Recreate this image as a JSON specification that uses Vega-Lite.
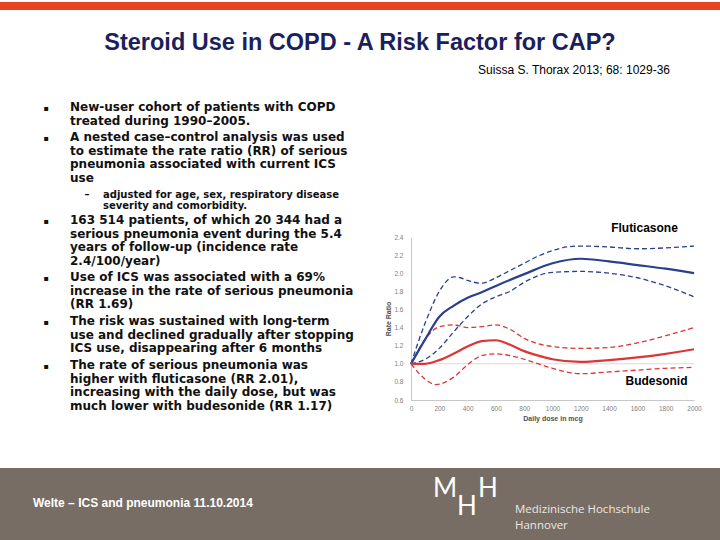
{
  "$schema": "https://vega.github.io/schema/vega-lite/v6.json",
  "padding": 0,
  "background": "white",
  "spacing": 0,
  "bounds": "full",
  "align": "each",
  "config": {
    "view": {"stroke": null},
    "concat": {"spacing": 0},
    "axis": {"labelOverlap": false, "labelBound": false, "labelFlush": false, "grid": false, "ticks": false, "domainColor": "#c8c8c8", "labelFont": "Liberation Sans", "labelFontSize": 6.5, "labelColor": "#808080", "titleFont": "Liberation Sans", "titleFontSize": 7, "titleFontWeight": "bold", "titleColor": "#505050"}
  },
  "datasets": {
    "curves": [
      {"drug":"Fluticasone","band":"estimate","dose":0,"rr":1.0},
      {"drug":"Fluticasone","band":"estimate","dose":100,"rr":1.27},
      {"drug":"Fluticasone","band":"estimate","dose":200,"rr":1.52},
      {"drug":"Fluticasone","band":"estimate","dose":300,"rr":1.64},
      {"drug":"Fluticasone","band":"estimate","dose":400,"rr":1.73},
      {"drug":"Fluticasone","band":"estimate","dose":500,"rr":1.79},
      {"drug":"Fluticasone","band":"estimate","dose":600,"rr":1.86},
      {"drug":"Fluticasone","band":"estimate","dose":800,"rr":1.99},
      {"drug":"Fluticasone","band":"estimate","dose":1000,"rr":2.11},
      {"drug":"Fluticasone","band":"estimate","dose":1200,"rr":2.16},
      {"drug":"Fluticasone","band":"estimate","dose":1400,"rr":2.13},
      {"drug":"Fluticasone","band":"estimate","dose":1600,"rr":2.09},
      {"drug":"Fluticasone","band":"estimate","dose":1800,"rr":2.05},
      {"drug":"Fluticasone","band":"estimate","dose":2000,"rr":2.0},
      {"drug":"Fluticasone","band":"upper","dose":0,"rr":1.0},
      {"drug":"Fluticasone","band":"upper","dose":100,"rr":1.45},
      {"drug":"Fluticasone","band":"upper","dose":200,"rr":1.8},
      {"drug":"Fluticasone","band":"upper","dose":250,"rr":1.91},
      {"drug":"Fluticasone","band":"upper","dose":300,"rr":1.96},
      {"drug":"Fluticasone","band":"upper","dose":350,"rr":1.95},
      {"drug":"Fluticasone","band":"upper","dose":400,"rr":1.92},
      {"drug":"Fluticasone","band":"upper","dose":500,"rr":1.89},
      {"drug":"Fluticasone","band":"upper","dose":600,"rr":1.95},
      {"drug":"Fluticasone","band":"upper","dose":700,"rr":2.03},
      {"drug":"Fluticasone","band":"upper","dose":800,"rr":2.11},
      {"drug":"Fluticasone","band":"upper","dose":900,"rr":2.19},
      {"drug":"Fluticasone","band":"upper","dose":1000,"rr":2.25},
      {"drug":"Fluticasone","band":"upper","dose":1100,"rr":2.29},
      {"drug":"Fluticasone","band":"upper","dose":1200,"rr":2.3},
      {"drug":"Fluticasone","band":"upper","dose":1400,"rr":2.29},
      {"drug":"Fluticasone","band":"upper","dose":1600,"rr":2.27},
      {"drug":"Fluticasone","band":"upper","dose":1800,"rr":2.28},
      {"drug":"Fluticasone","band":"upper","dose":2000,"rr":2.3},
      {"drug":"Fluticasone","band":"lower","dose":0,"rr":1.0},
      {"drug":"Fluticasone","band":"lower","dose":100,"rr":1.05},
      {"drug":"Fluticasone","band":"lower","dose":200,"rr":1.17},
      {"drug":"Fluticasone","band":"lower","dose":300,"rr":1.35},
      {"drug":"Fluticasone","band":"lower","dose":400,"rr":1.52},
      {"drug":"Fluticasone","band":"lower","dose":500,"rr":1.66},
      {"drug":"Fluticasone","band":"lower","dose":600,"rr":1.74},
      {"drug":"Fluticasone","band":"lower","dose":700,"rr":1.8},
      {"drug":"Fluticasone","band":"lower","dose":800,"rr":1.9},
      {"drug":"Fluticasone","band":"lower","dose":1000,"rr":2.01},
      {"drug":"Fluticasone","band":"lower","dose":1200,"rr":2.02},
      {"drug":"Fluticasone","band":"lower","dose":1400,"rr":2.0},
      {"drug":"Fluticasone","band":"lower","dose":1600,"rr":1.95},
      {"drug":"Fluticasone","band":"lower","dose":1800,"rr":1.86},
      {"drug":"Fluticasone","band":"lower","dose":2000,"rr":1.74},
      {"drug":"Budesonide","band":"estimate","dose":0,"rr":1.0},
      {"drug":"Budesonide","band":"estimate","dose":100,"rr":1.0},
      {"drug":"Budesonide","band":"estimate","dose":200,"rr":1.04},
      {"drug":"Budesonide","band":"estimate","dose":300,"rr":1.11},
      {"drug":"Budesonide","band":"estimate","dose":400,"rr":1.19},
      {"drug":"Budesonide","band":"estimate","dose":500,"rr":1.25},
      {"drug":"Budesonide","band":"estimate","dose":600,"rr":1.26},
      {"drug":"Budesonide","band":"estimate","dose":700,"rr":1.21},
      {"drug":"Budesonide","band":"estimate","dose":800,"rr":1.14},
      {"drug":"Budesonide","band":"estimate","dose":900,"rr":1.09},
      {"drug":"Budesonide","band":"estimate","dose":1000,"rr":1.05},
      {"drug":"Budesonide","band":"estimate","dose":1200,"rr":1.02},
      {"drug":"Budesonide","band":"estimate","dose":1400,"rr":1.04},
      {"drug":"Budesonide","band":"estimate","dose":1600,"rr":1.07},
      {"drug":"Budesonide","band":"estimate","dose":1800,"rr":1.11},
      {"drug":"Budesonide","band":"estimate","dose":2000,"rr":1.16},
      {"drug":"Budesonide","band":"upper","dose":0,"rr":1.0},
      {"drug":"Budesonide","band":"upper","dose":100,"rr":1.27},
      {"drug":"Budesonide","band":"upper","dose":200,"rr":1.41},
      {"drug":"Budesonide","band":"upper","dose":300,"rr":1.43},
      {"drug":"Budesonide","band":"upper","dose":400,"rr":1.4},
      {"drug":"Budesonide","band":"upper","dose":500,"rr":1.41},
      {"drug":"Budesonide","band":"upper","dose":600,"rr":1.43},
      {"drug":"Budesonide","band":"upper","dose":700,"rr":1.38},
      {"drug":"Budesonide","band":"upper","dose":800,"rr":1.28},
      {"drug":"Budesonide","band":"upper","dose":900,"rr":1.22},
      {"drug":"Budesonide","band":"upper","dose":1000,"rr":1.19},
      {"drug":"Budesonide","band":"upper","dose":1200,"rr":1.17},
      {"drug":"Budesonide","band":"upper","dose":1400,"rr":1.18},
      {"drug":"Budesonide","band":"upper","dose":1600,"rr":1.23},
      {"drug":"Budesonide","band":"upper","dose":1800,"rr":1.31},
      {"drug":"Budesonide","band":"upper","dose":2000,"rr":1.4},
      {"drug":"Budesonide","band":"lower","dose":0,"rr":1.0},
      {"drug":"Budesonide","band":"lower","dose":100,"rr":0.83},
      {"drug":"Budesonide","band":"lower","dose":175,"rr":0.77},
      {"drug":"Budesonide","band":"lower","dose":300,"rr":0.85},
      {"drug":"Budesonide","band":"lower","dose":400,"rr":0.99},
      {"drug":"Budesonide","band":"lower","dose":500,"rr":1.09},
      {"drug":"Budesonide","band":"lower","dose":600,"rr":1.11},
      {"drug":"Budesonide","band":"lower","dose":700,"rr":1.09},
      {"drug":"Budesonide","band":"lower","dose":800,"rr":1.05},
      {"drug":"Budesonide","band":"lower","dose":900,"rr":1.0},
      {"drug":"Budesonide","band":"lower","dose":1000,"rr":0.95},
      {"drug":"Budesonide","band":"lower","dose":1200,"rr":0.89},
      {"drug":"Budesonide","band":"lower","dose":1400,"rr":0.91},
      {"drug":"Budesonide","band":"lower","dose":1600,"rr":0.93},
      {"drug":"Budesonide","band":"lower","dose":1800,"rr":0.95},
      {"drug":"Budesonide","band":"lower","dose":2000,"rr":0.96}
    ],
    "bullets": [
      {"item":1,"level":0,"text":"▪"},
      {"item":1,"level":1,"text":["New-user cohort of patients with COPD","treated during 1990–2005."]},
      {"item":2,"level":0,"text":"▪"},
      {"item":2,"level":1,"text":["A nested case–control analysis was used","to estimate the rate ratio (RR) of serious","pneumonia associated with current ICS","use"]},
      {"item":3,"level":2,"text":"–"},
      {"item":3,"level":3,"text":["adjusted for age, sex, respiratory disease","severity and comorbidity."]},
      {"item":4,"level":0,"text":"▪"},
      {"item":4,"level":1,"text":["163 514 patients, of which 20 344 had a","serious pneumonia event during the 5.4","years of follow-up (incidence rate","2.4/100/year)"]},
      {"item":5,"level":0,"text":"▪"},
      {"item":5,"level":1,"text":["Use of ICS was associated with a 69%","increase in the rate of serious pneumonia","(RR 1.69)"]},
      {"item":6,"level":0,"text":"▪"},
      {"item":6,"level":1,"text":["The risk was sustained with long-term","use and declined gradually after stopping","ICS use, disappearing after 6 months"]},
      {"item":7,"level":0,"text":"▪"},
      {"item":7,"level":1,"text":["The rate of serious pneumonia was","higher with fluticasone (RR 2.01),","increasing with the daily dose, but was","much lower with budesonide (RR 1.17)"]}
    ]
  },
  "vconcat": [
    {
      "width": 720, "height": 8,
      "view": {"fill": "#e94321"},
      "data": {"values": [{"t": ""}]},
      "mark": "text",
      "encoding": {"text": {"field": "t"}}
    },
    {
      "width": 720, "height": 68,
      "title": {"text": "Suissa S. Thorax 2013; 68: 1029-36", "orient": "bottom", "anchor": "end", "offset": -14, "dx": -50, "font": "Liberation Sans", "fontSize": 12, "fontWeight": "normal", "color": "#000000"},
      "data": {"values": [{"heading": "Steroid Use in COPD - A Risk Factor for CAP?"}]},
      "mark": {"type": "text", "font": "Liberation Sans", "fontSize": 23.5, "fontWeight": "bold", "color": "#1b1f5c", "baseline": "middle", "dy": -2},
      "encoding": {"text": {"field": "heading"}}
    },
    {
      "spacing": 0, "bounds": "flush", "align": "each",
      "hconcat": [
        {
          "width": 411, "height": 389,
          "data": {"name": "bullets"},
          "encoding": {
            "x": {"field": "level", "type": "quantitative", "scale": {"domain": [0,1,2,3], "range": [46,70,87,103], "zero": false, "nice": false}, "axis": null},
            "y": {"field": "item", "type": "quantitative", "scale": {"domain": [1,2,3,4,5,6,7], "range": [23,53,110.5,136,193,237,281], "zero": false, "nice": false}, "axis": null},
            "text": {"field": "text", "type": "nominal"}
          },
          "layer": [
            {"transform": [{"filter": "datum.level == 0"}], "mark": {"type": "text", "font": "DejaVu Sans", "fontSize": 8, "align": "center", "baseline": "middle", "dy": 6.5, "color": "#111111"}},
            {"transform": [{"filter": "datum.level == 1"}], "mark": {"type": "text", "font": "DejaVu Sans", "fontSize": 12, "fontWeight": "bold", "align": "left", "baseline": "top", "lineHeight": 13.5, "color": "#111111"}},
            {"transform": [{"filter": "datum.level == 2"}], "mark": {"type": "text", "font": "DejaVu Sans", "fontSize": 10, "fontWeight": "bold", "align": "center", "baseline": "middle", "dy": 5, "color": "#111111"}},
            {"transform": [{"filter": "datum.level == 3"}], "mark": {"type": "text", "font": "DejaVu Sans", "fontSize": 10, "fontWeight": "bold", "align": "left", "baseline": "top", "lineHeight": 11, "color": "#111111"}}
          ]
        },
        {
          "spacing": 0, "bounds": "flush", "align": "each",
          "vconcat": [
            {
              "width": 283, "height": 158,
              "data": {"values": [{"t": ""}]},
              "mark": "text",
              "encoding": {"text": {"field": "t"}}
            },
            {
              "width": 283, "height": 163,
              "layer": [
                {
                  "data": {"values": [{"rr": 1.0}]},
                  "mark": {"type": "rule", "color": "#d9d9d9", "strokeWidth": 1},
                  "encoding": {"y": {"field": "rr", "type": "quantitative", "scale": {"domain": [0.6, 2.4], "zero": false, "nice": false},
                      "axis": {"values": [0.6,0.8,1.0,1.2,1.4,1.6,1.8,2.0,2.2,2.4], "format": ".1f", "title": "Rate Ratio", "labelPadding": 8, "titlePadding": 2}}}
                },
                {
                  "data": {"name": "curves"},
                  "transform": [{"filter": "datum.band != 'estimate'"}],
                  "mark": {"type": "line", "interpolate": "monotone", "strokeWidth": 1.3, "strokeDash": [5, 3]},
                  "encoding": {
                    "x": {"field": "dose", "type": "quantitative", "scale": {"domain": [0, 2000], "nice": false},
                      "axis": {"values": [0,200,400,600,800,1000,1200,1400,1600,1800,2000], "format": "d", "title": "Daily dose in mcg", "labelPadding": 5, "titlePadding": 3}},
                    "y": {"field": "rr", "type": "quantitative",
                      "axis": {"values": [0.6,0.8,1.0,1.2,1.4,1.6,1.8,2.0,2.2,2.4], "format": ".1f", "title": "Rate Ratio", "labelPadding": 8, "titlePadding": 2}},
                    "color": {"field": "drug", "type": "nominal", "scale": {"domain": ["Fluticasone", "Budesonide"], "range": ["#2a3f92", "#dc3535"]}, "legend": null},
                    "detail": {"field": "band", "type": "nominal"}
                  }
                },
                {
                  "data": {"name": "curves"},
                  "transform": [{"filter": "datum.band == 'estimate'"}],
                  "mark": {"type": "line", "interpolate": "monotone", "strokeWidth": 2.2},
                  "encoding": {
                    "x": {"field": "dose", "type": "quantitative",
                      "axis": {"values": [0,200,400,600,800,1000,1200,1400,1600,1800,2000], "format": "d", "title": "Daily dose in mcg", "labelPadding": 5, "titlePadding": 3}},
                    "y": {"field": "rr", "type": "quantitative",
                      "axis": {"values": [0.6,0.8,1.0,1.2,1.4,1.6,1.8,2.0,2.2,2.4], "format": ".1f", "title": "Rate Ratio", "labelPadding": 8, "titlePadding": 2}},
                    "color": {"field": "drug", "type": "nominal", "legend": null}
                  }
                },
                {
                  "data": {"values": [{"label": "Fluticasone", "dose": 1650, "rr": 2.5}, {"label": "Budesonid", "dose": 1735, "rr": 0.81}]},
                  "mark": {"type": "text", "font": "Liberation Sans", "fontSize": 12, "fontWeight": "bold", "color": "#000000", "baseline": "middle"},
                  "encoding": {
                    "x": {"field": "dose", "type": "quantitative",
                      "axis": {"values": [0,200,400,600,800,1000,1200,1400,1600,1800,2000], "format": "d", "title": "Daily dose in mcg", "labelPadding": 5, "titlePadding": 3}},
                    "y": {"field": "rr", "type": "quantitative",
                      "axis": {"values": [0.6,0.8,1.0,1.2,1.4,1.6,1.8,2.0,2.2,2.4], "format": ".1f", "title": "Rate Ratio", "labelPadding": 8, "titlePadding": 2}},
                    "text": {"field": "label", "type": "nominal"}
                  }
                }
              ]
            }
          ]
        }
      ]
    },
    {
      "width": 720, "height": 75,
      "view": {"fill": "#776d64"},
      "data": {"values": [
        {"slot": 1, "text": "Welte – ICS and pneumonia 11.10.2014"},
        {"slot": 2, "text": "M"},
        {"slot": 3, "text": "H"},
        {"slot": 4, "text": "H"},
        {"slot": 5, "text": "Medizinische Hochschule"},
        {"slot": 6, "text": "Hannover"}
      ]},
      "encoding": {
        "x": {"field": "slot", "type": "quantitative", "scale": {"domain": [1,2,3,4,5,6], "range": [33,433,457,478,515,515], "zero": false, "nice": false}, "axis": null},
        "y": {"field": "slot", "type": "quantitative", "scale": {"domain": [1,2,3,4,5,6], "range": [35,29,47,29,42,58], "zero": false, "nice": false}, "axis": null},
        "text": {"field": "text", "type": "nominal"}
      },
      "layer": [
        {"transform": [{"filter": "datum.slot == 1"}], "mark": {"type": "text", "font": "Liberation Sans", "fontSize": 12, "fontWeight": "bold", "color": "#ffffff", "align": "left", "baseline": "middle"}},
        {"transform": [{"filter": "datum.slot >= 2 && datum.slot <= 4"}], "mark": {"type": "text", "font": "Lato", "fontSize": 26, "color": "#ffffff", "align": "left", "baseline": "alphabetic"}},
        {"transform": [{"filter": "datum.slot >= 5"}], "mark": {"type": "text", "font": "Open Sans", "fontSize": 11.5, "color": "#ece8e2", "align": "left", "baseline": "middle"}}
      ]
    }
  ]
}
